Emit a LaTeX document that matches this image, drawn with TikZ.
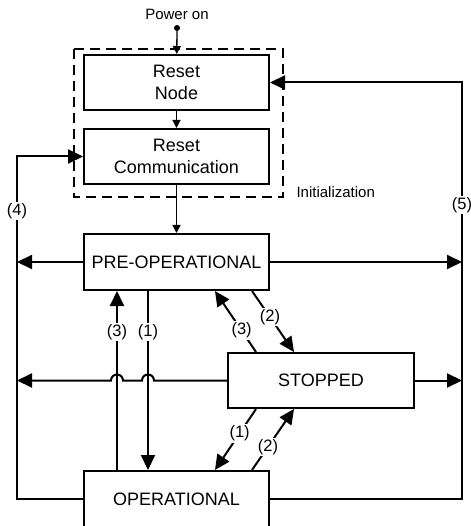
\documentclass[tikz,border=0pt]{standalone}
\usepackage{fontspec}
\setmainfont{Liberation Sans}
\usetikzlibrary{arrows.meta,calc}
\begin{document}
\begin{tikzpicture}[x=1pt,y=1pt,
  box/.style={draw,line width=2pt,minimum width=185pt,minimum height=55pt,inner sep=0pt,align=center,font=\fontsize{18}{22}\selectfont},
  conn/.style={line width=2pt},
  big/.style={conn,-{Triangle[length=15pt,width=14pt]}},
  thinarr/.style={line width=1.3pt,-{Triangle[length=8pt,width=8pt]}},
  lbl/.style={font=\fontsize{16.5}{19}\selectfont,fill=white,inner sep=1.5pt}]
\useasboundingbox (0,0) rectangle (470,-526);
% boxes
\node[box] (rn) at (176.5,-82.5) {Reset\\Node};
\node[box] (rc) at (176.5,-156.5) {Reset\\Communication};
\node[box,minimum height=56pt] (pre) at (176.5,-262) {PRE-OPERATIONAL};
\node[box,minimum width=186pt] (stop) at (321,-380.5) {STOPPED};
\node[box,minimum height=56pt] (op) at (176.5,-499) {OPERATIONAL};
% initialization frame
\draw[line width=1.6pt,dash pattern=on 10pt off 6pt] (74,-49) rectangle (283,-197);
\node[font=\fontsize{15}{18}\selectfont,anchor=west] (init) at (293,-192) {Initialization};
% power on
\node[font=\fontsize{15}{18}\selectfont] (pwr) at (177,-14) {Power on};
\node[circle,fill,inner sep=0pt,minimum size=6pt] (dot) at (177,-28) {};
\draw[thinarr] (dot) -- (rn);
\draw[thinarr] (rn) -- (rc);
\draw[thinarr] (rc) -- (pre);
% helper coordinates
\coordinate (xl) at (17,0);
\coordinate (xr) at (462,0);
\coordinate (v3) at (117,0);
\coordinate (v1) at (148,0);
\coordinate (a) at (215,0);
\coordinate (b) at (252,0);
\coordinate (c) at (256,0);
\coordinate (d) at (294,0);
% (4) and (5)
\draw[big] (op.west) -| (xl |- rc.west) -- (rc.west);
\draw[big] (op.east) -| (xr |- rn.east) -- (rn.east);
\node[lbl] (l4) at (17,-211) {(4)};
\node[lbl] (l5) at (462,-205) {(5)};
% pre-operational side arrows
\draw[big] (pre.west) -- (xl |- pre.west);
\draw[big] (pre.east) -- (xr |- pre.east);
% stopped side arrows with hops
\draw[big] (stop.west) -- ($(v1 |- stop.west)+(6,0)$) arc[start angle=0,end angle=180,radius=6pt]
  -- ($(v3 |- stop.west)+(6,0)$) arc[start angle=0,end angle=180,radius=6pt] -- (xl |- stop.west);
\draw[big] (stop.east) -- (xr |- stop.east);
% verticals between pre and op
\draw[big] (v3 |- op.north) -- (v3 |- pre.south);
\draw[big] (v1 |- pre.south) -- (v1 |- op.north);
\node[lbl] (l3v) at (117,-332) {(3)};
\node[lbl] (l1v) at (148,-332) {(1)};
% diagonals
\draw[big] (c |- stop.north) -- node[lbl,pos=0.35] (l3d) {(3)} (a |- pre.south);
\draw[big] (b |- pre.south) -- node[lbl,pos=0.43] (l2d) {(2)} (d |- stop.north);
\draw[big] (c |- stop.south) -- node[lbl,pos=0.4] (l1d) {(1)} (a |- op.north);
\draw[big] (b |- op.north) -- node[lbl,pos=0.38] (l2e) {(2)} (d |- stop.south);
\end{tikzpicture}
\end{document}
